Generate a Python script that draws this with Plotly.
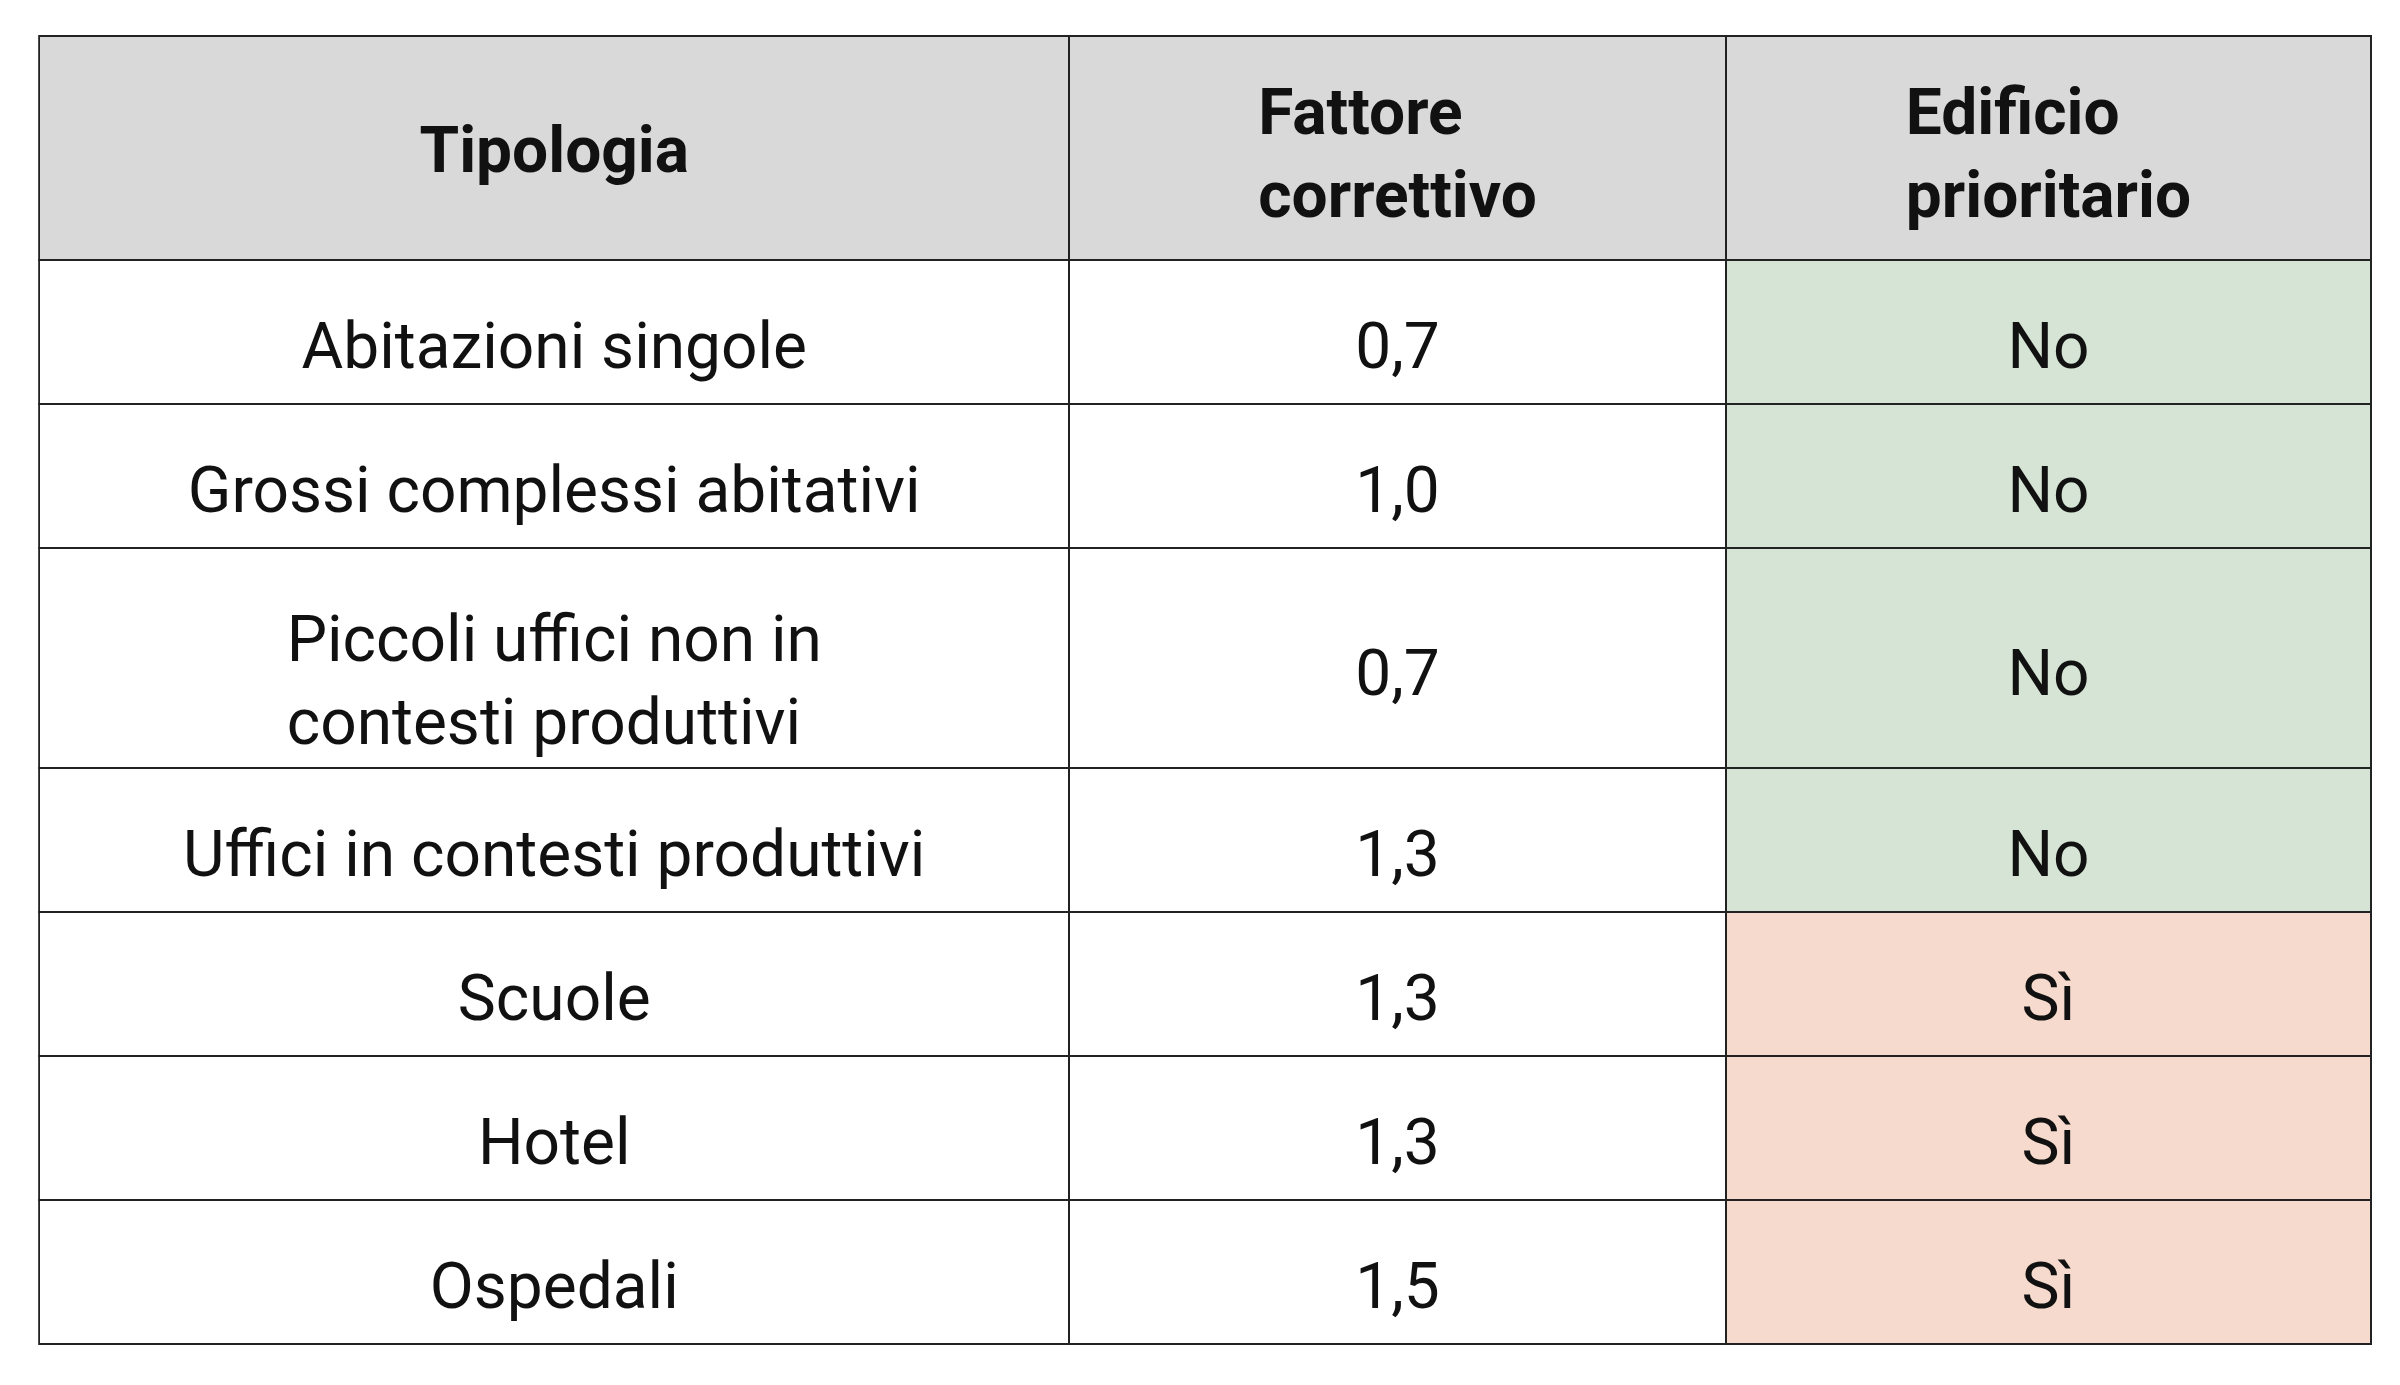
import plotly.graph_objects as go

headers = ["Tipologia", "Fattore<br>correttivo", "Edificio<br>prioritario"]
tipologia = ["Abitazioni singole", "Grossi complessi abitativi", "Piccoli uffici non in<br>contesti produttivi",
             "Uffici in contesti produttivi", "Scuole", "Hotel", "Ospedali"]
fattore = ["0,7", "1,0", "0,7", "1,3", "1,3", "1,3", "1,5"]
prioritario = ["No", "No", "No", "No", "Sì", "Sì", "Sì"]

green, red = "#d5e4d4", "#f5dacd"
prio_colors = [green if p == "No" else red for p in prioritario]
font = "Roboto, sans-serif"


def pad(s, px):
    return f"<span style='font-size:{px}px'> </span><br>{s}"


def pad_h(s):
    n = s.count("<br>")
    return pad(f"<b>{s}</b>", 48 if n == 0 else 8)


tip_cells = [pad(t, 18 if "<br>" not in t else 24) for t in tipologia]
fat_cells = [pad(f, 18 if "<br>" not in t else 60) for f, t in zip(fattore, tipologia)]
pri_cells = [pad(p, 18 if "<br>" not in t else 60) for p, t in zip(prioritario, tipologia)]

fig = go.Figure(go.Table(
    columnwidth=[1031, 657, 646],
    header=dict(values=[pad_h(h) for h in headers], fill_color="#d9d9d9", line=dict(color="#222", width=2),
                font=dict(family=font, size=64, color="#111"), height=224, align="center"),
    cells=dict(values=[tip_cells, fat_cells, pri_cells],
               fill_color=[["white"] * 7, ["white"] * 7, prio_colors],
               line=dict(color="#222", width=2),
               font=dict(family=font, size=64, color="#111"), height=144, align="center"),
    domain=dict(x=[0.013, 0.985], y=[0.0, 0.98]),
))
fig.update_layout(width=2400, height=1385, margin=dict(l=0, r=0, t=0, b=0),
                  paper_bgcolor="white")
fig.write_html("out.html")
